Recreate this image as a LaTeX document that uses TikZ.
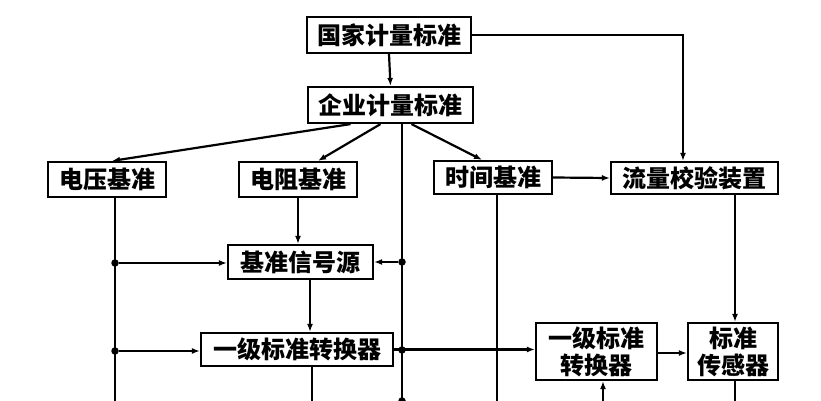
\documentclass[tikz,border=0pt]{standalone}
\usepackage{fontspec}
\newfontfamily\cjk{Noto Sans CJK SC}
\usetikzlibrary{arrows.meta}
\begin{document}
\begin{tikzpicture}[x=1pt,y=-1pt,
  box/.style={draw, line width=2.2pt, inner sep=0pt, font=\cjk\bfseries\fontsize{24}{27}\selectfont, align=center},
  conn/.style={line width=2.2pt, -{Latex[length=8pt,width=6pt]}},
  wire/.style={line width=2.2pt},
  jdot/.style={circle, fill, inner sep=0pt, minimum size=7.5pt}]
\useasboundingbox (0,0) rectangle (821,401);
\fill[white] (0,0) rectangle (821,401);
\begin{scope}
\clip (0,0) rectangle (821,401);
% boxes
\node[box, minimum width=164pt, minimum height=36pt] (gj) at (389,35) {国家计量标准};
\node[box, minimum width=165pt, minimum height=36pt] (qy) at (390.5,105) {企业计量标准};
\node[box, minimum width=118pt, minimum height=35pt] (dy) at (107,179.5) {电压基准};
\node[box, minimum width=118pt, minimum height=35pt] (dz) at (298,179.5) {电阻基准};
\node[box, minimum width=118pt, minimum height=33pt] (sj) at (493,177.5) {时间基准};
\node[box, minimum width=167pt, minimum height=32pt] (ll) at (694.5,178) {流量校验装置};
\node[box, minimum width=145pt, minimum height=34pt] (jz) at (300.5,262) {基准信号源};
\node[box, minimum width=192pt, minimum height=33pt] (yj1) at (297,349.5) {一级标准转换器};
\node[box, minimum width=121pt, minimum height=57pt] (yj2) at (596.5,351.5) {一级标准\\转换器};
\node[box, minimum width=90pt, minimum height=57pt] (bc) at (733,351.5) {标准\\传感器};
% helper coordinates
\coordinate (x115) at (115,0);
\coordinate (x310) at (310,0);
\coordinate (x312) at (312,0);
\coordinate (x402) at (402,0);
\coordinate (x497) at (497,0);
\coordinate (x603) at (603,0);
\coordinate (x683) at (683,0);
\coordinate (x735) at (735,0);
\coordinate (b115) at (115,402);
\coordinate (b312) at (312,402);
\coordinate (b402) at (402,402);
\coordinate (b497) at (497,402);
\coordinate (b603) at (603,402);
\coordinate (b735) at (735,402);
% junction dots
\node[jdot] (d1) at (115,263) {};
\node[jdot] (d2) at (115,351) {};
\node[jdot] (e1) at (402,262) {};
\node[jdot] (e2) at (402,350) {};
\node[jdot] (e3) at (402,401) {};
% connectors
\draw[conn] (gj.south) -- (qy.north);
\draw[conn] (gj.east) -| (x683 |- ll.north);
\draw[conn] ([xshift=-40pt]qy.south) -- ([xshift=5pt]dy.north);
\draw[conn] ([xshift=-10pt]qy.south) -- ([xshift=20pt]dz.north);
\draw[conn] ([xshift=21pt]qy.south) -- ([xshift=-11pt]sj.north);
\draw[wire] (x402 |- qy.south) -- (b402);
\draw[conn] (sj.east) -- (ll.west);
\draw[wire] (x115 |- dy.south) -- (b115);
\draw[conn] (d1) -- (d1 -| jz.west);
\draw[conn] (d2) -- (d2 -| yj1.west);
\draw[conn] (dz.south) -- (dz.south |- jz.north);
\draw[conn] (x310 |- jz.south) -- (x310 |- yj1.north);
\draw[conn] (e1) -- (e1 -| jz.east);
\draw[conn] (yj1.east) -- (yj1.east -| yj2.west);
\draw[wire] (x497 |- sj.south) -- (b497);
\draw[conn] (x735 |- ll.south) -- (x735 |- bc.north);
\draw[conn] ([yshift=-1.5pt]yj2.east) -- ([yshift=-1.5pt]yj2.east -| bc.west);
\draw[wire] (x735 |- bc.south) -- (b735);
\draw[conn] (b603) -- (x603 |- yj2.south);
\draw[wire] (x312 |- yj1.south) -- (b312);
\end{scope}
\end{tikzpicture}
\end{document}
